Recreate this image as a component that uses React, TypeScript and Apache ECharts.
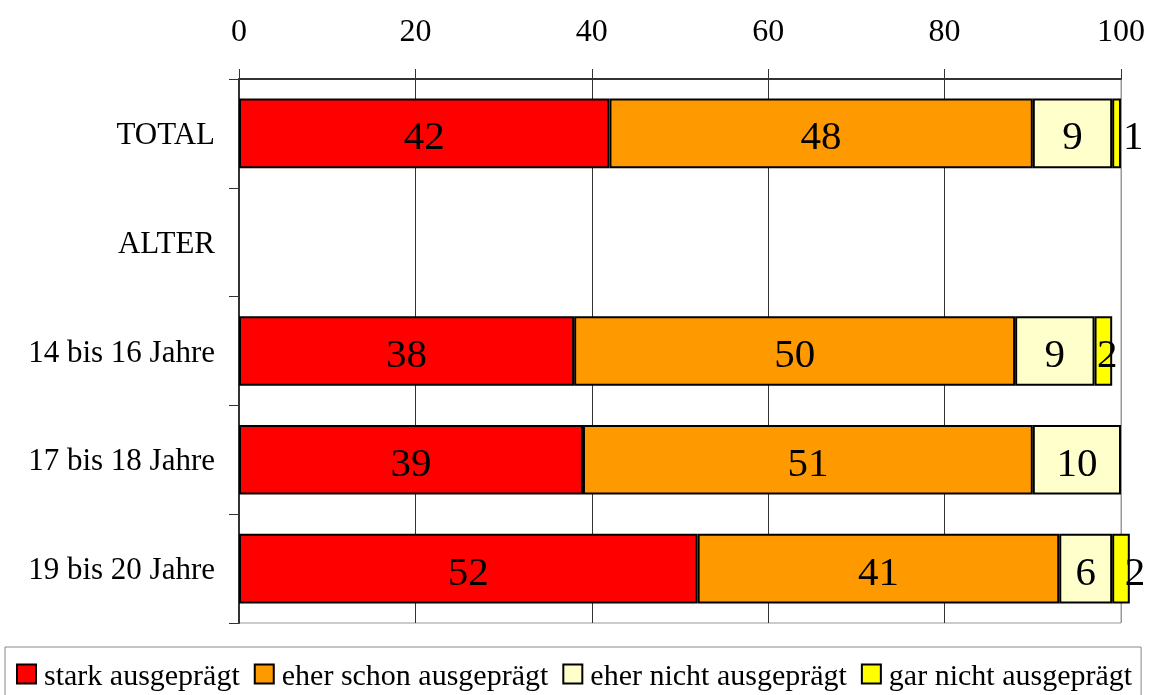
import React, { useEffect, useRef } from "react";
import * as echarts from "echarts";

// Categories (top to bottom) and the four answer shares in percent
const categories = ["TOTAL", "ALTER", "14 bis 16 Jahre", "17 bis 18 Jahre", "19 bis 20 Jahre"];
const seriesNames = ["stark ausgeprägt", "eher schon ausgeprägt", "eher nicht ausgeprägt", "gar nicht ausgeprägt"];
const stark = [42, null, 38, 39, 52];
const eherSchon = [48, null, 50, 51, 41];
const eherNicht = [9, null, 9, 10, 6];
const garNicht = [1, null, 2, null, 2];
const xTicks = [0, 20, 40, 60, 80, 100];

const colors = ["#FF0000", "#FF9900", "#FFFFCC", "#FFFF00"];
const FONT = "'Liberation Serif', 'Times New Roman', serif";

// Small end segments whose label sits just right of the bar
const outsideLabelRows = [0, 4];

export default function App() {
  const ref = useRef<HTMLDivElement>(null);

  useEffect(() => {
    if (!ref.current) return;
    const chart = echarts.init(ref.current, null, { renderer: "svg" });
    const values = [stark, eherSchon, eherNicht, garNicht];

    const series = values.map((arr, si) => ({
      name: seriesNames[si],
      type: "bar",
      stack: "total",
      barCategoryGap: "36%",
      clip: false,
      itemStyle: { color: colors[si], borderColor: "#000", borderWidth: 2 },
      label: {
        show: true,
        position: "inside",
        offset: [0, 2],
        color: "#000",
        fontFamily: FONT,
        fontSize: 41,
        formatter: (p: any) => (p.value == null ? "" : String(p.value)),
      },
      data: arr.map((v, i) =>
        si === 3 && outsideLabelRows.includes(i)
          ? { value: v, label: { position: "right", distance: i === 0 ? 2 : -5 } }
          : si === 3
          ? { value: v, label: { offset: [4, 2] } }
          : { value: v }
      ),
    }));

    chart.setOption({
      animation: false,
      grid: { left: 239, right: 28, top: 79, bottom: 72, show: true, borderColor: "#999", borderWidth: 1 },
      legend: {
        top: 647,
        left: 5,
        data: seriesNames,
        icon: "rect",
        itemWidth: 19,
        itemHeight: 19,
        itemGap: 14,
        padding: [12, 9, 10, 11],
        borderColor: "#888",
        borderWidth: 1,
        borderRadius: 0,
        itemStyle: { borderColor: "#000", borderWidth: 2 },
        textStyle: { fontFamily: FONT, fontSize: 30, color: "#000", padding: [0, 0, 0, 3] },
      },
      xAxis: {
        type: "value",
        position: "top",
        min: xTicks[0],
        max: xTicks[xTicks.length - 1],
        interval: 20,
        axisLine: { show: true, lineStyle: { color: "#333", width: 2 } },
        axisTick: { show: true, length: 10, lineStyle: { color: "#333", width: 1 } },
        axisLabel: { color: "#000", fontFamily: FONT, fontSize: 32, margin: 33 },
        splitLine: {
          show: true,
          lineStyle: { color: ["#333", "#333", "#333", "#333", "#333", "#999"], width: 1 },
        },
      },
      yAxis: {
        type: "category",
        inverse: true,
        data: categories,
        axisLine: { show: true, lineStyle: { color: "#333", width: 2 } },
        axisTick: { show: true, length: 10, lineStyle: { color: "#333", width: 1 } },
        axisLabel: { color: "#000", fontFamily: FONT, fontSize: 31, margin: 24 },
        splitLine: { show: false },
      },
      series,
    });

    return () => chart.dispose();
  }, []);

  return (
    <div
      ref={ref}
      style={{ position: "fixed", left: 0, top: 0, width: 1149, height: 695 }}
    />
  );
}
